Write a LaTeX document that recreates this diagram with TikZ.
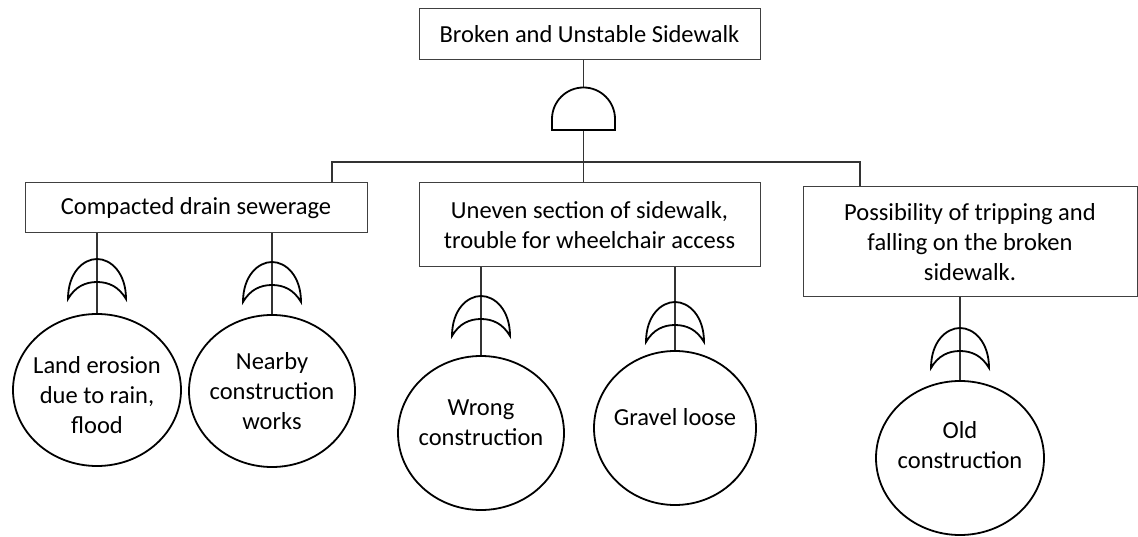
\documentclass[tikz,border=0pt]{standalone}
\usepackage{fontspec}
\setmainfont{Carlito}
\usetikzlibrary{shapes.geometric}
\tikzset{
  x=1pt, y=-1pt,
  box/.style={draw=black!75, line width=1pt, inner sep=0pt, align=center, font=\fontsize{24.5}{30}\selectfont},
  evt/.style={draw=black, line width=1.8pt, ellipse, inner sep=0pt},
  evtlabel/.style={align=center, font=\fontsize{24.5}{30}\selectfont},
  conn/.style={draw=black!80, line width=1.1pt},
  gate/.style={draw=black, line width=1.8pt},
  orgate/.pic={
    \draw[gate] (-29,40) .. controls (-29,14) and (-14,0) .. (0,0)
      .. controls (14,0) and (29,14) .. (29,40)
      .. controls (22,28) and (12,23) .. (0,23)
      .. controls (-12,23) and (-22,28) .. (-29,40) -- cycle;
  }
}
\begin{document}
\begin{tikzpicture}
\useasboundingbox (0,0) rectangle (1138,537);
% boxes
\node[box, minimum width=341, minimum height=51] (top) at (589.5,34.5) {Broken and Unstable Sidewalk};
\node[box, minimum width=342, minimum height=50] (b1) at (196,208) {Compacted drain sewerage};
\node[box, minimum width=341, minimum height=84] (b2) at (589.5,225) {Uneven section of sidewalk,\\trouble for wheelchair access};
\node[box, minimum width=334, minimum height=110] (b3) at (970,242) {Possibility of tripping and\\falling on the broken\\sidewalk.};
% basic events
\node[evt, minimum width=168, minimum height=152, label={[evtlabel, yshift=-5]center:Land erosion\\due to rain,\\flood}] (c1) at (97,390) {};
\node[evt, minimum width=166, minimum height=152, label={[evtlabel, yshift=0]center:Nearby\\construction\\works}] (c2) at (272,391) {};
\node[evt, minimum width=166, minimum height=154, label={[evtlabel, yshift=10]center:Wrong\\construction}] (c3) at (481,433) {};
\node[evt, minimum width=162, minimum height=154, label={[evtlabel, yshift=11]center:Gravel loose}] (c4) at (675,428) {};
\node[evt, minimum width=168, minimum height=154, label={[evtlabel, yshift=13]center:Old\\construction}] (c5) at (960,458) {};
% AND gate
\coordinate (andtop) at (583.5,88);
\coordinate (andbot) at (583.5,130);
\coordinate (bus) at (583.5,162);
\draw[conn] (top.south -| andtop) -- (andtop);
\draw[conn] (andbot) -- (bus);
\draw[conn] (b1.north -| 332,0) |- (bus) -| (b3.north -| 860,0);
\draw[conn] (b2.north -| bus) -- (bus);
\draw[gate] (552,130) -- (552,119) arc[start angle=180, end angle=360, radius=31.5] -- (615,130) -- cycle;
% OR gates and connectors
\draw[conn] (c1.north) -- (c1.north |- b1.south);
\draw[conn] (c2.north) -- (c2.north |- b1.south);
\draw[conn] (c3.north) -- (c3.north |- b2.south);
\draw[conn] (c4.north) -- (c4.north |- b2.south);
\draw[conn] (c5.north) -- (c5.north |- b3.south);
\pic at (c1.north |- 0,259) {orgate};
\pic at (c2.north |- 0,262) {orgate};
\pic at (c3.north |- 0,296) {orgate};
\pic at (c4.north |- 0,302) {orgate};
\pic at (c5.north |- 0,328) {orgate};
\end{tikzpicture}
\end{document}
